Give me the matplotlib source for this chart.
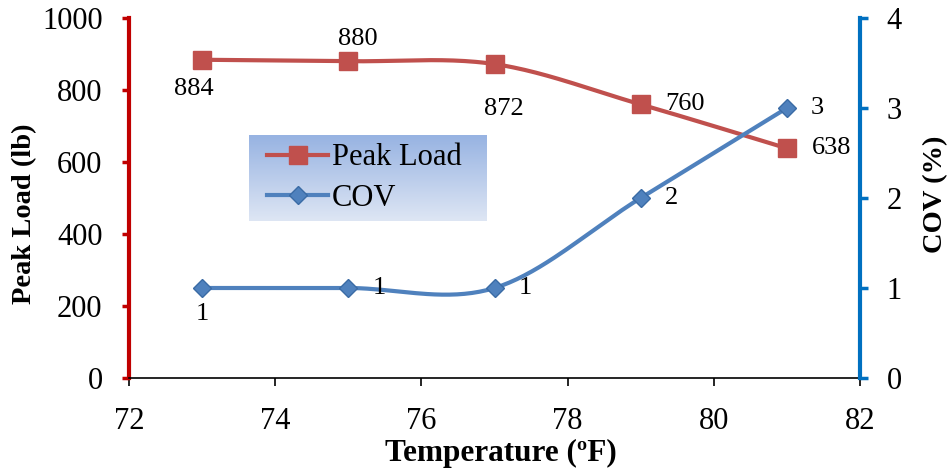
import numpy as np
import matplotlib
matplotlib.use('Agg')
import matplotlib.pyplot as plt
from matplotlib.colors import LinearSegmentedColormap

plt.rcParams['font.family'] = ['Liberation Serif', 'DejaVu Serif']

temps = [73, 75, 77, 79, 81]
peak_load = [884, 880, 872, 760, 638]
cov = [1, 1, 1, 2, 3]
load_labels = ['884', '880', '872', '760', '638']
cov_labels = ['1', '1', '1', '2', '3']

red = '#C0504D'
blue = '#4F81BD'


def smooth(xs, ys, n=40):
    # excel-like smoothed line: bezier segments with catmull-rom controls
    xs = np.asarray(xs, float)
    ys = np.asarray(ys, float)
    px = np.concatenate([[xs[0]], xs, [xs[-1]]])
    py = np.concatenate([[ys[0]], ys, [ys[-1]]])
    outx, outy = [], []
    t = np.linspace(0, 1, n)
    for i in range(1, len(px) - 2):
        p0 = np.array([px[i], py[i]])
        p3 = np.array([px[i + 1], py[i + 1]])
        c1 = p0 + (np.array([px[i + 1], py[i + 1]]) - np.array([px[i - 1], py[i - 1]])) / 6
        c2 = p3 - (np.array([px[i + 2], py[i + 2]]) - np.array([px[i], py[i]])) / 6
        b = ((1 - t) ** 3)[:, None] * p0 + (3 * (1 - t) ** 2 * t)[:, None] * c1 \
            + (3 * (1 - t) * t ** 2)[:, None] * c2 + (t ** 3)[:, None] * p3
        outx.extend(b[:, 0])
        outy.extend(b[:, 1])
    return outx, outy


fig = plt.figure(figsize=(9.5, 4.7), dpi=100)
ax = fig.add_axes([129 / 950, 1 - 378 / 470, 731 / 950, 360 / 470])
ax2 = ax.twinx()

sx, sy = smooth(temps, peak_load)
ax.plot(sx, sy, color=red, lw=3, zorder=3)
ax.plot(temps, peak_load, 's', color=red, ms=13.5, zorder=4)
cx, cy = smooth(temps, cov)
ax2.plot(cx, cy, color=blue, lw=3, zorder=3)
ax2.plot(temps, cov, 'D', color=blue, mec='#3A6BA5', ms=9, zorder=4)

ax.set_xlim(72, 82)
ax.set_ylim(0, 1000)
ax2.set_ylim(0, 4)
ax.set_xticks(range(72, 83, 2))
ax.set_yticks(range(0, 1001, 200))
ax2.set_yticks(range(0, 5))

ax.spines['top'].set_visible(False)
ax2.spines['top'].set_visible(False)
ax.spines['right'].set_visible(False)
ax2.spines['left'].set_visible(False)
ax2.spines['bottom'].set_visible(False)
ax.spines['left'].set_color('#C00000')
ax.spines['left'].set_linewidth(3)
ax2.spines['right'].set_color('#0070C0')
ax2.spines['right'].set_linewidth(3)
ax.spines['bottom'].set_linewidth(1.2)

ax.tick_params(axis='y', colors='#C00000', labelcolor='black', width=2.5, length=5, labelsize=22, pad=14)
ax2.tick_params(axis='y', colors='#0070C0', labelcolor='black', width=2.5, length=6, labelsize=22, pad=13)
ax.tick_params(axis='x', width=1.2, length=6, labelsize=22, pad=15)

ax.set_xlabel('Temperature (ºF)', fontsize=22.5, fontweight='bold')
ax.set_ylabel('Peak Load (lb)', fontsize=20.5, fontweight='bold')
ax2.set_ylabel('COV (%)', fontsize=20.5, fontweight='bold')
ax.xaxis.set_label_coords(501 / 950, 1 - 453 / 470, transform=fig.transFigure)
ax.yaxis.set_label_coords(25 / 950, 1 - 214 / 470, transform=fig.transFigure)
ax2.yaxis.set_label_coords(936 / 950, 1 - 194 / 470, transform=fig.transFigure)
ax.xaxis.label.set_va('center')
ax.yaxis.label.set_va('center')
ax2.yaxis.label.set_va('center')

# data labels
load_off = [(-6, -21), (6.5, 16), (6.5, -32), (32, 0), (32, 0)]
for x, y, lab, off in zip(temps, peak_load, load_labels, load_off):
    ax.annotate(lab, (x, y), xytext=off, textcoords='offset points',
                ha='center', va='center', fontsize=19)
cov_off = [(0, -19), (22, 0), (22, 0), (22, 0), (22, 0)]
for x, y, lab, off in zip(temps, cov, cov_labels, cov_off):
    ax2.annotate(lab, (x, y), xytext=off, textcoords='offset points',
                 ha='center', va='center', fontsize=19)

# legend with gradient background
grad = np.linspace(0, 1, 256)[:, None]
cmap = LinearSegmentedColormap.from_list('g', ['#97B3E2', '#DEE6F4'])
lax = fig.add_axes([249 / 950, 1 - 221 / 470, 238 / 950, 86 / 470], zorder=5)
lax.imshow(grad, aspect='auto', cmap=cmap, extent=[0, 1, 0, 1])
lax.set_axis_off()
h1, = lax.plot([], [], color=red, lw=3, marker='s', ms=13.5)
h2, = lax.plot([], [], color=blue, lw=3, marker='D', ms=9, mec='#3A6BA5')
lax.legend([h1, h2], ['Peak Load', 'COV'], loc='center left',
           bbox_to_anchor=((267 - 249) / 238, 0.5), frameon=False,
           fontsize=22, handlelength=2.0, handletextpad=0.12, labelspacing=0.37,
           borderpad=0, borderaxespad=0)

fig.savefig('out.png', dpi=100)
